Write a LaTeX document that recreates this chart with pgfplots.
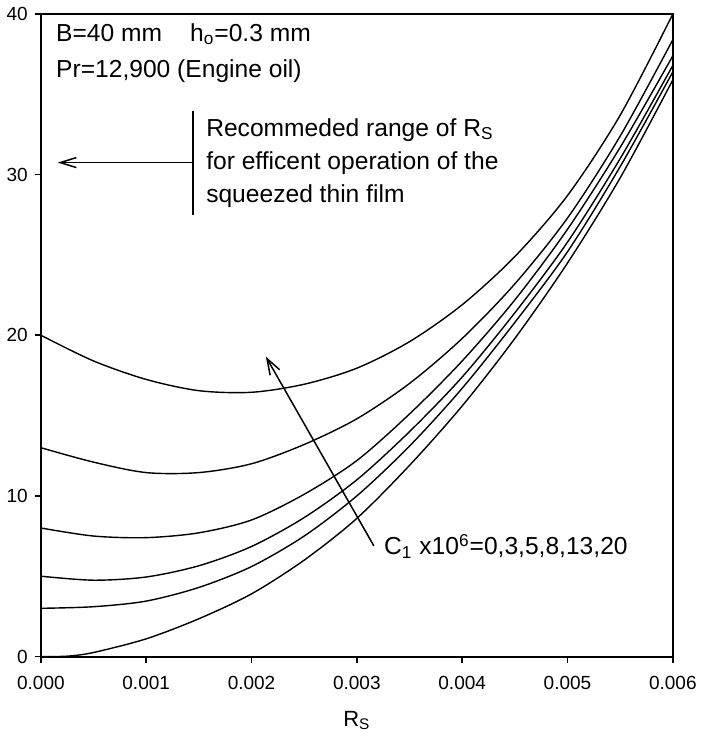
\documentclass[border=0pt]{standalone}
\usepackage{fontspec}
\setmainfont{Liberation Sans}
\usepackage{pgfplots}
\pgfplotsset{compat=1.18}
\usetikzlibrary{arrows.meta}
\pgfplotsset{curve/.style={black, solid, mark=none, line width=0.7pt, smooth}}

\begin{document}
\begin{tikzpicture}
% page frame, in the reference's proportions
\path (-20pt,-42.25pt) rectangle (336pt,328.25pt);
\begin{axis}[
  at={(0,0)}, anchor=south west,
  scale only axis, width=316pt, height=321.25pt,
  xmin=0, xmax=0.006, ymin=0, ymax=40,
  xtick={0,0.001,0.002,0.003,0.004,0.005,0.006},
  xticklabels={0.000,0.001,0.002,0.003,0.004,0.005,0.006},
  ytick={0,10,20,30,40},
  scaled x ticks=false,
  tick pos=left, tick align=outside, major tick length=3pt,
  tick style={black, line width=0.8pt},
  axis line style={line width=1pt},
  tick label style={font=\fontsize{9.5}{11}\selectfont},
  xticklabel style={yshift=-3.5pt},
  /pgf/number format/assume math mode=true,
  xlabel={R\textsubscript{S}},
  xlabel style={at={(axis description cs:0.5,0)}, anchor=base, yshift=-35pt,
    font=\fontsize{11}{13}\selectfont},
  clip=false,
]
% C1 x 10^6 = 20
\addplot[curve] coordinates {(0,20.0) (0.0005,18.4) (0.001,17.25) (0.0015,16.55) (0.002,16.45)
  (0.0025,16.95) (0.003,17.95) (0.0035,19.6) (0.004,21.9) (0.0045,24.9) (0.005,28.7)
  (0.0055,33.7) (0.006,40.0)};
% 13
\addplot[curve] coordinates {(0,13.0) (0.0005,12.1) (0.001,11.45) (0.0015,11.45) (0.002,12.0)
  (0.0025,13.2) (0.003,14.8) (0.0035,17.0) (0.004,19.8) (0.0045,23.2) (0.005,27.3)
  (0.0055,32.4) (0.006,38.4)};
% 8
\addplot[curve] coordinates {(0,8.0) (0.0005,7.5) (0.001,7.4) (0.0015,7.7) (0.002,8.5)
  (0.0025,10.1) (0.003,12.2) (0.0035,15.1) (0.004,18.4) (0.0045,22.2) (0.005,26.6)
  (0.0055,31.7) (0.006,37.4)};
% 5
\addplot[curve] coordinates {(0,5.0) (0.0005,4.75) (0.001,4.95) (0.0015,5.65) (0.002,6.85)
  (0.0025,8.65) (0.003,11.0) (0.0035,14.0) (0.004,17.4) (0.0045,21.4) (0.005,25.8)
  (0.0055,31.0) (0.006,36.8)};
% 3
\addplot[curve] coordinates {(0,3.0) (0.0005,3.1) (0.001,3.45) (0.0015,4.3) (0.002,5.6)
  (0.0025,7.5) (0.003,10.0) (0.0035,13.1) (0.004,16.7) (0.0045,20.8) (0.005,25.2)
  (0.0055,30.5) (0.006,36.4)};
% 0
\addplot[curve] coordinates {(0,0) (0.00025,0.02) (0.0005,0.25) (0.001,1.1) (0.0015,2.35) (0.002,3.9)
  (0.0025,6.0) (0.003,8.6) (0.0035,11.9) (0.004,15.6) (0.0045,19.8) (0.005,24.5)
  (0.0055,29.8) (0.006,35.9)};

% annotations
\begin{scope}[every node/.style={anchor=base west, inner sep=0pt,
    font=\fontsize{12.3}{15}\selectfont}]
\node at (axis cs:0.000142,38.31) {B=40 mm\hspace{14pt}h\textsubscript{o}=0.3 mm};
\node at (axis cs:0.000142,36.07) {Pr=12,900 (Engine oil)};
\node at (axis cs:0.0015665,32.39) {Recommeded range of R\textsubscript{S}};
\node at (axis cs:0.0015665,30.33) {for efficent operation of the};
\node at (axis cs:0.0015665,28.27) {squeezed thin film};
\node at (axis cs:0.003256,6.33) {C\textsubscript{1} x10\textsuperscript{6}=0,3,5,8,13,20};
\end{scope}
\draw[line width=0.75pt] (axis cs:0.001443,33.95) -- (axis cs:0.001443,27.5);
\draw[line width=0.75pt, -{Straight Barb[length=8pt,width=5pt]}]
  (axis cs:0.001443,30.75) -- (axis cs:0.000161,30.75);
\draw[line width=0.75pt, -{Straight Barb[length=8pt,width=5.5pt]}]
  (axis cs:0.003161,6.89) -- (axis cs:0.002136,18.67);
\end{axis}
\end{tikzpicture}
\end{document}
